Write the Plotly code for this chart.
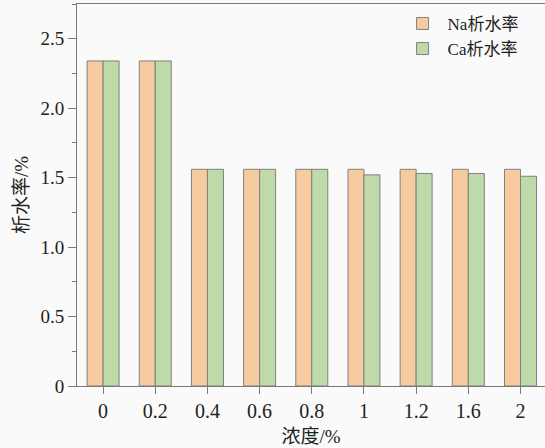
import plotly.graph_objects as go

categories = ["0", "0.2", "0.4", "0.6", "0.8", "1", "1.2", "1.6", "2"]
na_values = [2.34, 2.34, 1.56, 1.56, 1.56, 1.56, 1.56, 1.56, 1.56]
ca_values = [2.34, 2.34, 1.56, 1.56, 1.56, 1.52, 1.53, 1.53, 1.51]
y_tickvals = [0, 0.5, 1.0, 1.5, 2.0, 2.5]
y_ticktext = ["0", "0.5", "1.0", "1.5", "2.0", "2.5"]
na_name = "Na析水率"
ca_name = "Ca析水率"
x_title = "浓度/%"
y_title = "析水率/%"

FONT = "Liberation Serif, Times New Roman, Noto Sans CJK SC, serif"
AXIS_COLOR = "#7a7a7a"
BG = "#fafafa"

fig = go.Figure()
fig.add_trace(go.Bar(x=categories, y=na_values, name=na_name,
                     marker=dict(color="#f6cba0", line=dict(color="#808080", width=1))))
fig.add_trace(go.Bar(x=categories, y=ca_values, name=ca_name,
                     marker=dict(color="#bddaa8", line=dict(color="#808080", width=1))))

n = len(categories)
xr = [-0.5, n - 0.5 - 0.03]

fig.update_layout(
    width=545, height=448,
    margin=dict(l=77, r=0, t=4, b=62),
    paper_bgcolor=BG, plot_bgcolor=BG,
    font=dict(family=FONT, size=19, color="#222222"),
    barmode="group", bargap=0.387, bargroupgap=0,
    showlegend=True,
    legend=dict(x=0.685, y=0.995, xanchor="left", yanchor="top",
                bgcolor="rgba(0,0,0,0)", font=dict(size=17, family=FONT),
                tracegroupgap=0, itemwidth=40),
    xaxis=dict(
        type="category", range=xr,
        showline=True, linecolor=AXIS_COLOR, linewidth=1, mirror=True,
        ticks="outside", ticklen=7, tickcolor=AXIS_COLOR,
        showgrid=False, zeroline=False,
        title=dict(text=x_title, font=dict(size=19), standoff=8),
        tickfont=dict(size=20),
    ),
    xaxis2=dict(
        overlaying="x", anchor="y", range=xr, side="bottom",
        tickmode="array", tickvals=[i + 0.5 for i in range(n - 1)],
        ticks="outside", ticklen=3, tickcolor=AXIS_COLOR,
        showticklabels=False, showgrid=False, zeroline=False, showline=False,
    ),
    yaxis=dict(
        range=[0, 2.75],
        tickmode="array", tickvals=y_tickvals, ticktext=y_ticktext,
        showline=True, linecolor=AXIS_COLOR, linewidth=1,
        ticks="outside", ticklen=8, tickcolor=AXIS_COLOR,
        minor=dict(tickmode="linear", tick0=0, dtick=0.25, ticks="outside",
                   ticklen=4, tickcolor=AXIS_COLOR),
        showgrid=False, zeroline=False,
        title=dict(text=y_title, font=dict(size=19), standoff=6),
        tickfont=dict(size=19),
    ),
)

fig.write_html("out.html")
